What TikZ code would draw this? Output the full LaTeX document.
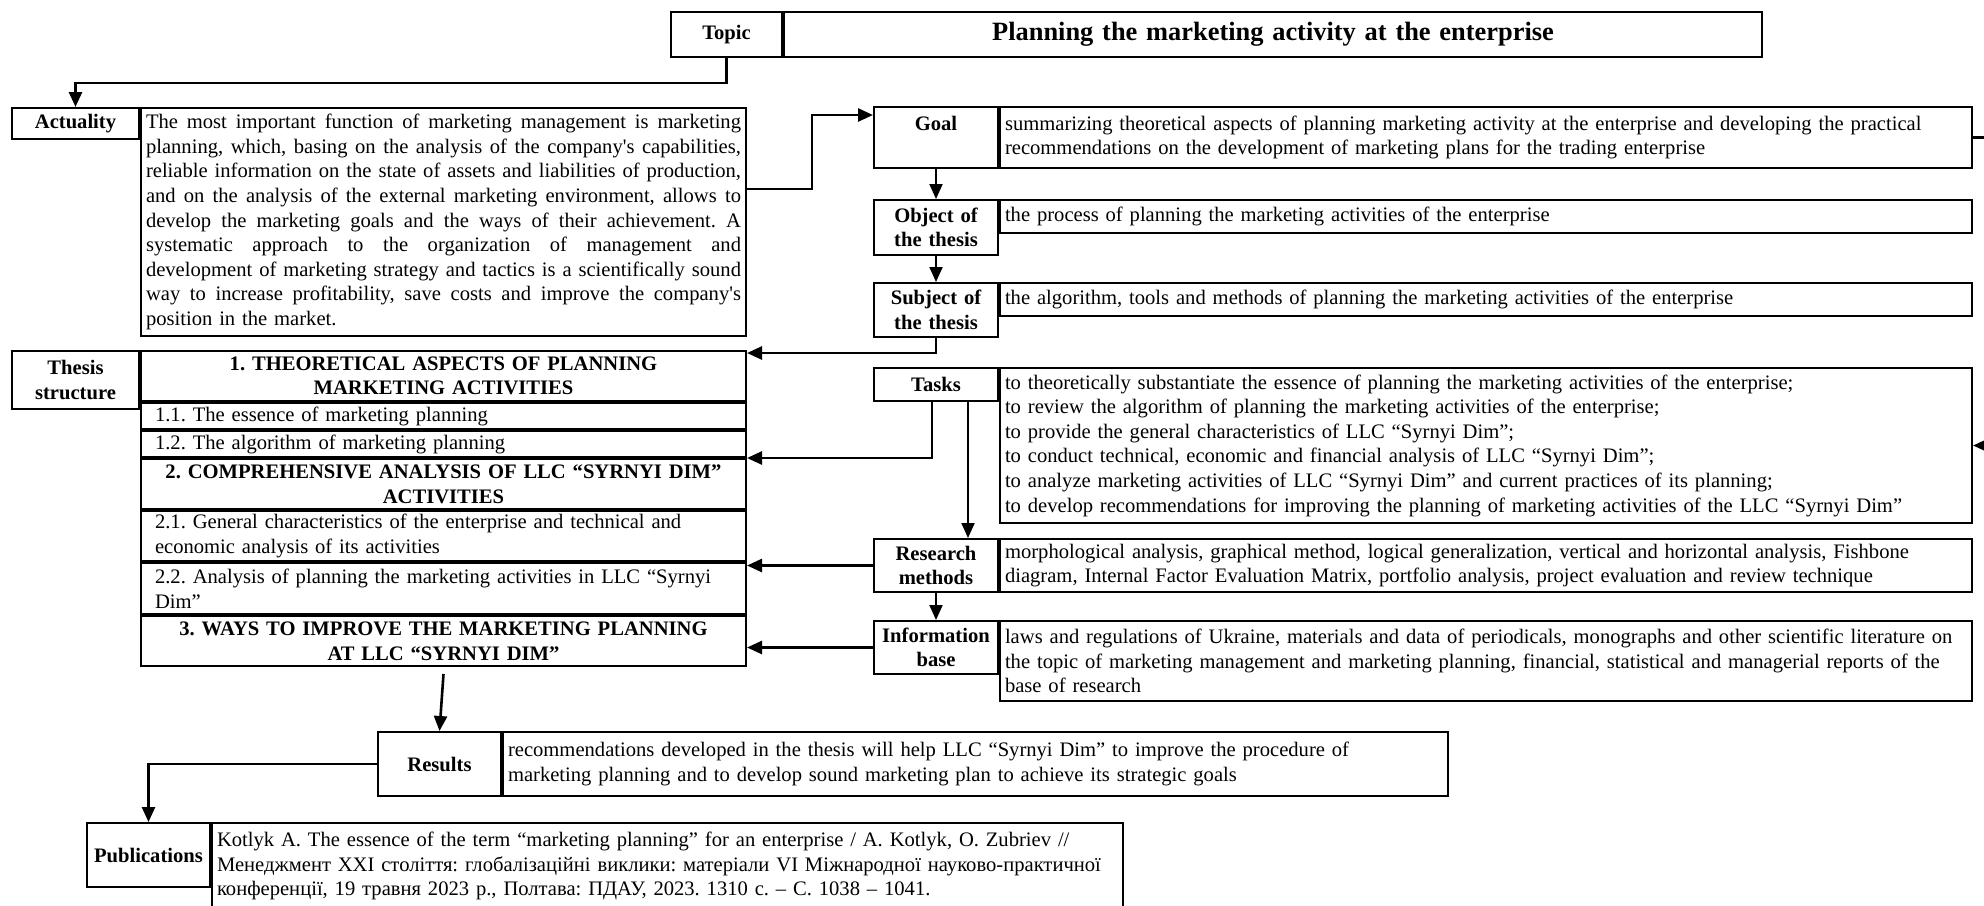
\documentclass[tikz,border=0pt]{standalone}
\usepackage{fontspec}
\setmainfont{Liberation Serif}
\usetikzlibrary{arrows.meta,positioning}

\newcommand{\jline}[1]{\leavevmode\hbox to 297.5pt{\spaceskip=0.25em plus 1fil\relax #1}\\}

\begin{document}
\begin{tikzpicture}[x=0.5pt,y=-0.5pt]
%------------------------------------------------------------------------------------------------
% Cell and arrow styles

    \tikzset{cell/.style={draw, line width=1pt, inner xsep=2.5pt, inner ysep=1.5pt,
            anchor=north west, font=\fontsize{10.3}{12.3}\selectfont\frenchspacing},
        head/.style={cell, align=center, font=\fontsize{10.3}{12.3}\selectfont\frenchspacing\bfseries},
        body/.style={cell, align=left},
        row/.style={body, inner xsep=7pt, inner ysep=0.5pt, text width=288.5pt},
        rowhead/.style={head, inner xsep=7pt, inner ysep=0.5pt, text width=288.5pt},
        arr/.style={line width=1.3pt, -{Triangle[length=7.5pt,width=6.5pt]}},
        thinarr/.style={arr, line width=1pt}
    }
    \clip (0,0) rectangle (1984,905);
%------------------------------------------------------------------------------------------------
% topic
    \node [head, text width=50.5pt, minimum height=22.5pt](topic) at (670,11) {Topic};
    \node [head, text width=484pt, minimum height=22.5pt,
        font=\fontsize{13.2}{15}\selectfont\bfseries](title) at (topic.north east)
        {Planning the marketing activity at the enterprise};
% actuality
    \node [head, text width=58.5pt, minimum height=15.5pt](actuality) at (11,107) {Actuality};
    \node [body, text width=297.5pt, minimum height=114pt](actualitytxt) at (actuality.north east) {%
        \jline{The most important function of marketing management is marketing}
        \jline{planning, which, basing on the analysis of the company\textquotesingle s capabilities,}
        \jline{reliable information on the state of assets and liabilities of production,}
        \jline{and on the analysis of the external marketing environment, allows to}
        \jline{develop the marketing goals and the ways of their achievement. A}
        \jline{systematic approach to the organization of management and}
        \jline{development of marketing strategy and tactics is a scientifically sound}
        \jline{way to increase profitability, save costs and improve the company\textquotesingle s}
        position in the market.};
% thesis structure
    \node [head, text width=58.5pt, minimum height=29pt](structure) at (11,350) {Thesis\\structure};
    \node [rowhead, minimum height=25pt](s1) at (structure.north east)
        {1. THEORETICAL ASPECTS OF PLANNING\\MARKETING ACTIVITIES};
    \node [row, minimum height=13pt](s11) at (s1.south west) {1.1. The essence of marketing planning};
    \node [row, minimum height=13pt](s12) at (s11.south west) {1.2. The algorithm of marketing planning};
    \node [rowhead, minimum height=25pt](s2) at (s12.south west)
        {2. COMPREHENSIVE ANALYSIS OF LLC “SYRNYI DIM”\\ACTIVITIES};
    \node [row, minimum height=25pt](s21) at (s2.south west)
        {2.1. General characteristics of the enterprise and technical and\\economic analysis of its activities};
    \node [row, minimum height=25.5pt](s22) at (s21.south west)
        {2.2. Analysis of planning the marketing activities in LLC “Syrnyi\\Dim”};
    \node [rowhead, minimum height=25pt](s3) at (s22.south west)
        {3. WAYS TO IMPROVE THE MARKETING PLANNING\\AT LLC “SYRNYI DIM”};
% right column
    \node [head, text width=57pt, minimum height=30.5pt, text depth=14.2pt](goal) at (873,106) {Goal};
    \node [body, text width=481pt, minimum height=30.5pt](goaltxt) at (goal.north east)
        {summarizing theoretical aspects of planning marketing activity at the enterprise and developing the practical\\
        recommendations on the development of marketing plans for the trading enterprise};
    \node [head, text width=57pt, minimum height=27.5pt](object) at (873,199) {Object of\\the thesis};
    \node [body, text width=481pt, minimum height=16.5pt](objecttxt) at (object.north east)
        {the process of planning the marketing activities of the enterprise};
    \node [head, text width=57pt, minimum height=27pt](subject) at (873,282) {Subject of\\the thesis};
    \node [body, text width=481pt, minimum height=16.5pt](subjecttxt) at (subject.north east)
        {the algorithm, tools and methods of planning the marketing activities of the enterprise};
    \node [head, text width=57pt, minimum height=16.5pt](tasks) at (873,367) {Tasks};
    \node [body, text width=481pt, minimum height=77.5pt](taskstxt) at (tasks.north east)
        {to theoretically substantiate the essence of planning the marketing activities of the enterprise;\\
        to review the algorithm of planning the marketing activities of the enterprise;\\
        to provide the general characteristics of LLC “Syrnyi Dim”;\\
        to conduct technical, economic and financial analysis of LLC “Syrnyi Dim”;\\
        to analyze marketing activities of LLC “Syrnyi Dim” and current practices of its planning;\\
        to develop recommendations for improving the planning of marketing activities of the LLC “Syrnyi Dim”};
    \node [head, text width=57pt, minimum height=26.5pt](methods) at (873,538) {Research\\methods};
    \node [body, text width=481pt, minimum height=26.5pt](methodstxt) at (methods.north east)
        {morphological analysis, graphical method, logical generalization, vertical and horizontal analysis, Fishbone\\
        diagram, Internal Factor Evaluation Matrix, portfolio analysis, project evaluation and review technique};
    \node [head, text width=57pt, minimum height=26.5pt](infobase) at (873,620) {Information\\base};
    \node [body, text width=481pt, minimum height=40pt](infobasetxt) at (infobase.north east)
        {laws and regulations of Ukraine, materials and data of periodicals, monographs and other scientific literature on\\
        the topic of marketing management and marketing planning, financial, statistical and managerial reports of the\\
        base of research};
% results and publications
    \node [head, text width=56.5pt, minimum height=32pt](results) at (377,731) {Results};
    \node [body, text width=467.5pt, minimum height=32pt](resultstxt) at (results.north east)
        {recommendations developed in the thesis will help LLC “Syrnyi Dim” to improve the procedure of\\
        marketing planning and to develop sound marketing plan to achieve its strategic goals};
    \node [head, text width=56.5pt, minimum height=32pt](publications) at (86,822) {Publications};
    \node [body, text width=450.5pt, minimum height=43pt](publicationstxt) at (publications.north east)
        {Kotlyk A. The essence of the term “marketing planning” for an enterprise / A. Kotlyk, O. Zubriev //\\
        Менеджмент XXI століття: глобалізаційні виклики: матеріали VI Міжнародної науково-практичної\\
        конференції, 19 травня 2023 р., Полтава: ПДАУ, 2023. 1310 с. – С. 1038 – 1041.};
%------------------------------------------------------------------------------------------------
\draw [arr] (topic.south) -- ++(0,25) -| (actuality.north);
\draw [arr] ([yshift=-41pt]actualitytxt.north east) -- ++(65,0) |- ([yshift=-4.5pt]goal.north west);
\foreach \from/\to in {goal/object, object/subject, methods/infobase} {
    \draw [thinarr] (\from.south) -- (\to.north);
}
\draw [arr] (subject.south) |- ([yshift=-1.5pt]s1.north east);
\draw [arr] ([xshift=-2pt]tasks.south) |- (s12.south east);
\draw [thinarr] ([xshift=16pt]tasks.south) -- ([xshift=16pt]methods.north);
\draw [arr] (methods.west) -- (methods.west -| s22.east);
\draw [arr] (infobase.west) -- (infobase.west -| s3.east);
\draw [arr] (goaltxt.east) -- ++(20,0) |- (taskstxt.east);
\draw [arr] ([yshift=-3.5pt]s3.south) -- (results.north);
\draw [arr] (results.west) -| (publications.north);

\end{tikzpicture}
\end{document}
